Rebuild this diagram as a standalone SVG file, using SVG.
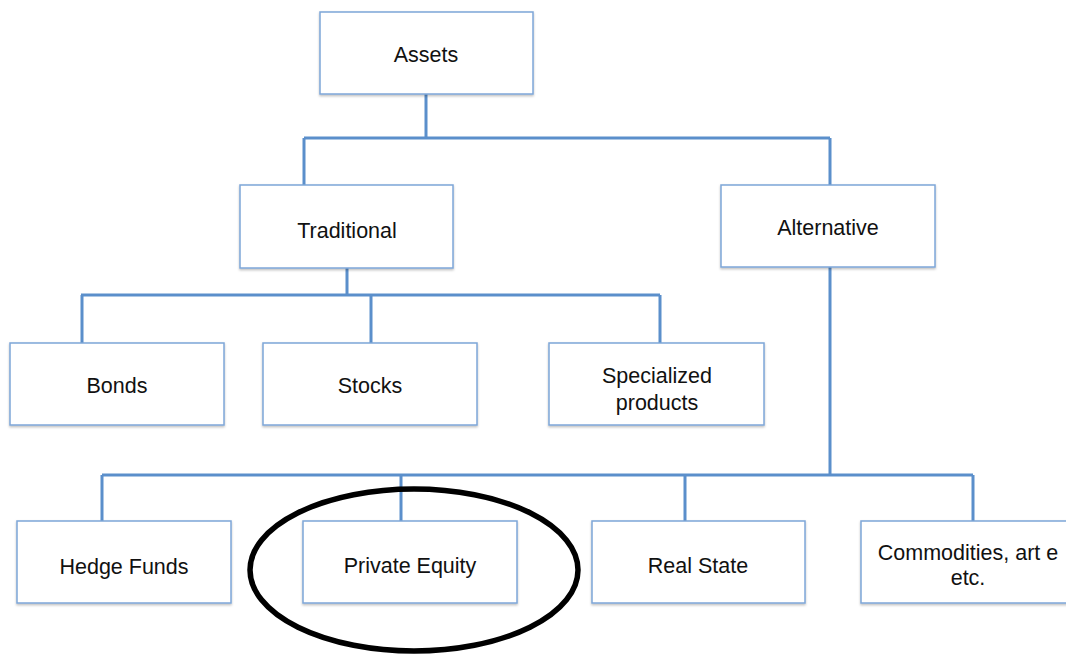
<svg xmlns="http://www.w3.org/2000/svg" width="1066" height="655" viewBox="0 0 1066 655">
<defs>
<filter id="sh" x="-5%" y="-5%" width="110%" height="115%">
<feDropShadow dx="0" dy="1.5" stdDeviation="1" flood-color="#000" flood-opacity="0.25"/>
</filter>
</defs>
<style>
.box{fill:#fff;stroke:#7ea6d8;stroke-width:1.5;filter:url(#sh)}
.lbl{font-family:"Liberation Sans",Arial,sans-serif;font-size:21.5px;fill:#111;text-anchor:middle}
.con{fill:none;stroke:#5b8fcb;stroke-width:3}
</style>
<rect width="1066" height="655" fill="#fff"/>
<g id="connectors">
<path class="con" d="M426,94 V138 M304,138 H830 M304,138 V185 M830,138 V185"/>
<path class="con" d="M347,268 V295 M81,295 H660 M82,295 V343 M371,295 V343 M660,295 V343"/>
<path class="con" d="M830,267 V475 M102,475 H973 M102,475 V521 M401,475 V521 M685,475 V521 M973,475 V521"/>
</g>
<g id="assets"><rect class="box" x="320" y="12" width="213" height="82"/><text class="lbl" x="426" y="62">Assets</text></g>
<g id="traditional"><rect class="box" x="240" y="185" width="213" height="83"/><text class="lbl" x="347" y="238">Traditional</text></g>
<g id="alternative"><rect class="box" x="721" y="185" width="214" height="82"/><text class="lbl" x="828" y="235">Alternative</text></g>
<g id="bonds"><rect class="box" x="10" y="343" width="214" height="82"/><text class="lbl" x="117" y="393">Bonds</text></g>
<g id="stocks"><rect class="box" x="263" y="343" width="214" height="82"/><text class="lbl" x="370" y="393">Stocks</text></g>
<g id="specialized"><rect class="box" x="549" y="343" width="215" height="82"/><text class="lbl" x="657" y="383">Specialized</text><text class="lbl" x="657" y="410">products</text></g>
<g id="hedge"><rect class="box" x="17" y="521" width="214" height="82"/><text class="lbl" x="124" y="574">Hedge  Funds</text></g>
<g id="private"><rect class="box" x="303" y="521" width="214" height="82"/><text class="lbl" x="410" y="573">Private Equity</text></g>
<g id="realstate"><rect class="box" x="592" y="521" width="213" height="82"/><text class="lbl" x="698" y="573">Real State</text></g>
<g id="commodities"><rect class="box" x="861" y="521" width="214" height="82"/><text class="lbl" x="968" y="560">Commodities, art e</text><text class="lbl" x="968" y="585">etc.</text></g>
<g id="highlight"><ellipse cx="414" cy="570" rx="164" ry="81" fill="none" stroke="#000" stroke-width="5.5"/></g>
</svg>
